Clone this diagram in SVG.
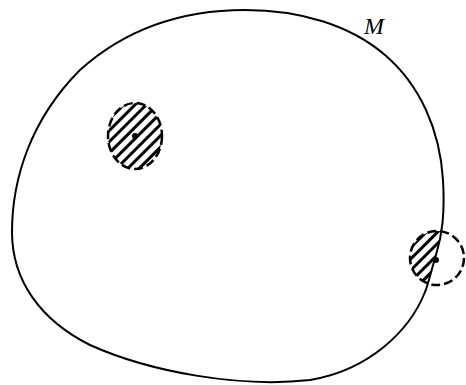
<svg xmlns="http://www.w3.org/2000/svg" width="466" height="385" viewBox="0 0 466 385">
<style>
.outline{fill:none;stroke:#000;stroke-width:2}
.disk{fill:none;stroke:#000;stroke-width:2.5;stroke-dasharray:9 4}
</style>
<defs>
<path id="mpath" d="M12,232 C12,180 30,120 80,70 C130,25 190,10 245,10 C300,10 350,25 385,55 C420,85 440,130 443,180 C445,215 442,235 436,255 C430,275 428,285 425,292 C410,330 370,370 310,380 C240,388 150,372 90,345 C40,320 12,280 12,232 Z"/>
<clipPath id="c1"><ellipse cx="135" cy="136" rx="27" ry="33"/></clipPath>
<clipPath id="mclip"><use href="#mpath"/></clipPath>
<clipPath id="c2" clip-path="url(#mclip)"><circle cx="437" cy="258" r="27"/></clipPath>
<pattern id="hp" patternUnits="userSpaceOnUse" width="8" height="8" patternTransform="rotate(45)">
<rect x="0" y="0" width="3" height="8" fill="#000"/>
</pattern>
</defs>
<g id="region-M">
<use href="#mpath" class="outline"/>
<text x="364" y="34" font-family="Liberation Serif, serif" font-style="italic" font-size="24">M</text>
</g>
<g id="disk-interior">
<rect x="100" y="100" width="70" height="72" fill="url(#hp)" clip-path="url(#c1)"/>
<ellipse cx="135" cy="136" rx="27" ry="33" class="disk"/>
<circle cx="135" cy="136" r="3" fill="#000"/>
</g>
<g id="disk-boundary">
<rect x="405" y="228" width="64" height="64" fill="url(#hp)" clip-path="url(#c2)"/>
<circle cx="437" cy="258" r="27" class="disk"/>
<circle cx="436" cy="260" r="3" fill="#000"/>
</g>
<g id="connectors"></g>
</svg>
